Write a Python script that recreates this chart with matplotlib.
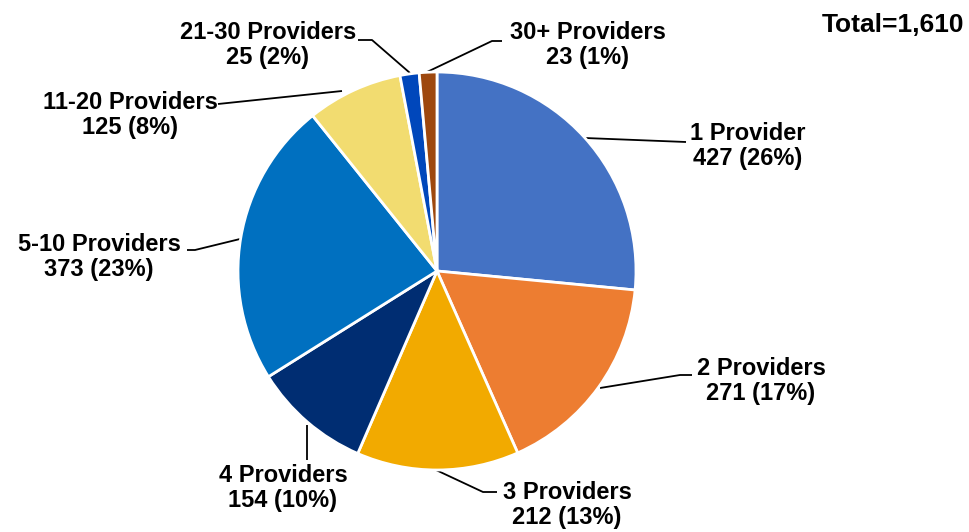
import matplotlib
matplotlib.use("Agg")
import matplotlib.pyplot as plt
import numpy as np

categories = ["1 Provider", "2 Providers", "3 Providers", "4 Providers",
              "5-10 Providers", "11-20 Providers", "21-30 Providers", "30+ Providers"]
counts = [427, 271, 212, 154, 373, 125, 25, 23]
percents = [26, 17, 13, 10, 23, 8, 2, 1]
total_label = "Total=1,610"
colors = ["#4472C4", "#ED7D31", "#F2AA00", "#002D72",
          "#0070C0", "#F2DC70", "#0047BB", "#9E480E"]

W, H = 969, 532
fig = plt.figure(figsize=(W / 100, H / 100), dpi=100)
ax = fig.add_axes([0, 0, 1, 1])

def P(x, y):
    return (x, H - y)

cx, cy = P(437, 271)
ax.pie(counts, colors=colors, startangle=90, counterclock=False,
       center=(cx, cy), radius=199, frame=True,
       wedgeprops=dict(edgecolor="white", linewidth=2))
ax.set_xlim(0, W)
ax.set_ylim(0, H)
ax.set_aspect("auto")
ax.axis("off")

font = dict(family=["Liberation Sans", "DejaVu Sans"], weight="bold")

text_pos = [(748, 146), (761, 381), (567, 505), (283, 488),
            (99, 257), (130, 115), (268, 45), (588, 45)]
leader = [
    [(585, 138), (686, 142)],
    [(600, 388), (680, 375), (692, 375)],
    [(436, 470), (483, 492), (497, 492)],
    [(307, 425), (307, 460)],
    [(240, 239), (195, 250), (187, 250)],
    [(342, 91), (218, 104)],
    [(410, 73), (372, 40), (358, 40)],
    [(427, 72), (492, 41), (502, 41)],
]

for cat, n, p, (tx, ty), pts in zip(categories, counts, percents, text_pos, leader):
    ax.text(*P(tx, ty), f"{cat}\n{n} ({p}%)", ha="center", va="center",
            multialignment="center", linespacing=1.12, color="black",
            fontsize=17, **font)
    xs = [q[0] for q in pts]
    ys = [H - q[1] for q in pts]
    ax.plot(xs, ys, color="black", linewidth=1.3, solid_capstyle="butt", zorder=0.5)

ax.text(*P(964, 25), total_label, ha="right", va="center", fontsize=19, **font)

fig.savefig("out.png", dpi=100)
